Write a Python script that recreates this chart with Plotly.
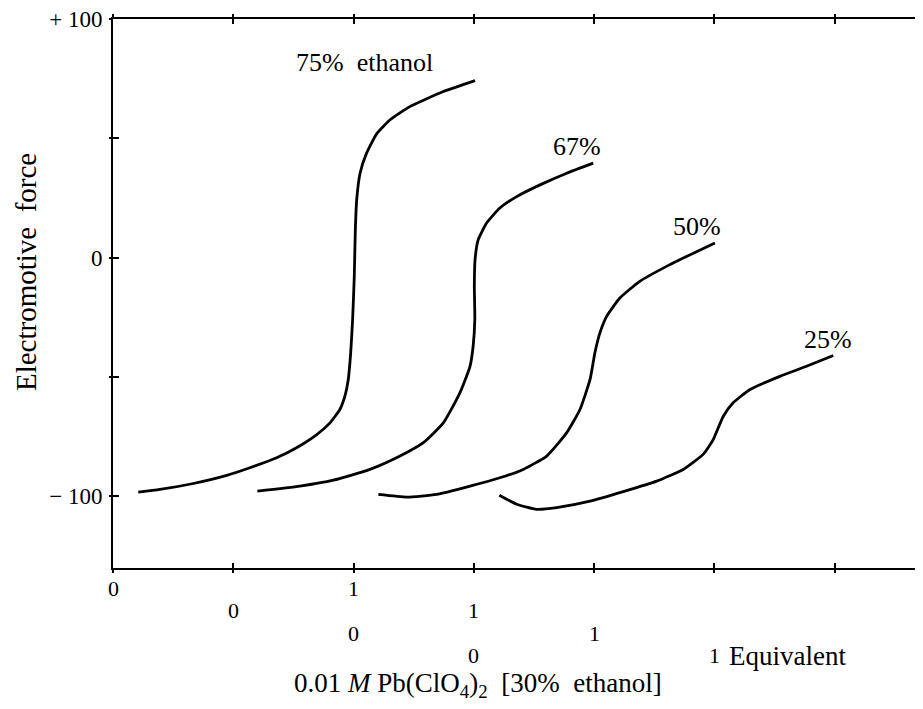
import plotly.graph_objects as go

# ---------------- data (x in equivalents of each curve's own scale, y = e.m.f.) ----------------
curve_names = ["75% ethanol", "67%", "50%", "25%"]
curve_offsets = [0.0, 0.5, 1.0, 1.5]   # each curve's scale starts half an equivalent further right

x_75 = [0.105, 0.195, 0.334, 0.473, 0.569, 0.680, 0.763, 0.847, 0.902, 0.943, 0.964, 0.978,
        0.988, 0.996, 1.003, 1.007, 1.013, 1.027, 1.054, 1.096, 1.151, 1.234, 1.373, 1.505]
y_75 = [-98.2, -97.1, -94.6, -91.2, -88.0, -83.8, -79.6, -74.1, -69.2, -63.6, -58.0, -51.0,
        -39.9, -25.9, -7.8, 10.3, 24.3, 35.4, 43.8, 51.9, 57.7, 63.3, 69.6, 74.2]

x_67 = [0.100, 0.277, 0.416, 0.568, 0.693, 0.790, 0.873, 0.942, 0.984, 0.997, 1.004, 1.002,
        1.005, 1.018, 1.053, 1.108, 1.178, 1.275, 1.386, 1.496]
y_67 = [-97.8, -95.7, -93.2, -88.7, -83.1, -77.5, -69.2, -56.6, -45.5, -37.1, -25.9, -12.0,
        -0.8, 7.5, 14.5, 20.8, 25.6, 30.5, 35.4, 39.6]

x_50 = [0.103, 0.221, 0.345, 0.484, 0.608, 0.705, 0.803, 0.886, 0.941, 0.983, 1.003, 1.024,
        1.052, 1.107, 1.190, 1.315, 1.502]
y_50 = [-99.2, -100.3, -99.2, -95.7, -92.2, -88.7, -83.1, -73.3, -63.6, -51.0, -39.9, -31.5,
        -24.6, -16.9, -9.9, -2.9, 6.2]

x_25 = [0.106, 0.178, 0.261, 0.344, 0.483, 0.621, 0.760, 0.870, 0.953, 0.995, 1.037, 1.078,
        1.148, 1.272, 1.383, 1.494]
y_25 = [-99.5, -103.3, -105.4, -104.7, -102.0, -98.0, -93.6, -88.7, -82.4, -76.2, -66.4, -60.8,
        -55.2, -49.7, -45.5, -41.0]

curves_x = [x_75, x_67, x_50, x_25]
curves_y = [y_75, y_67, y_50, y_25]

# curve label positions (absolute axis units)
label_x = [1.047, 1.929, 2.427, 2.972]
label_y = [81.6, 46.4, 13.0, -34.3]

# y axis ticks
y_labelvals = [-100, 0, 100]
y_ticktext = ["\u2212 100", "0", "+ 100"]
y_minorvals = [-50, 50]
y_allvals = [-100, -50, 0, 50, 100]

# x axis ticks (absolute units) and staggered scale labels
x_tickvals = [0, 0.5, 1.0, 1.5, 2.0, 2.5, 3.0]
scale_label_x = [0.0, 0.5, 1.0, 1.0, 1.5, 1.5, 2.0, 2.5]
scale_label_text = ["0", "0", "1", "0", "1", "0", "1", "1"]
scale_label_row = [0, 1, 0, 2, 1, 3, 2, 3]

x_title = "0.01 <i>M</i> Pb(ClO<sub>4</sub>)<sub>2</sub>  [30%  ethanol]"
y_title = "Electromotive  force"

FONT = "Liberation Serif"

fig = go.Figure()
for cx, cy, off in zip(curves_x, curves_y, curve_offsets):
    fig.add_trace(go.Scatter(x=[v + off for v in cx], y=cy, mode="lines",
                             line=dict(color="black", width=2.8, shape="spline", smoothing=0.5),
                             showlegend=False, hoverinfo="skip"))
# invisible trace for overlay axes
fig.add_trace(go.Scatter(x=[0], y=[0], xaxis="x2", yaxis="y2", mode="markers",
                         marker=dict(opacity=0), showlegend=False, hoverinfo="skip"))

for name, lx, ly in zip(curve_names, label_x, label_y):
    fig.add_annotation(x=lx, y=ly, text=name.replace("% ", "%  "), showarrow=False,
                       font=dict(family=FONT, size=26, color="black"), xanchor="center", yanchor="middle")

row_gap = 22.5
for lx, t, r in zip(scale_label_x, scale_label_text, scale_label_row):
    fig.add_annotation(x=lx, y=0, yref="paper", text=t, showarrow=False, xanchor="center",
                       yanchor="middle", yshift=-(20 + r * row_gap),
                       font=dict(family=FONT, size=22, color="black"))
fig.add_annotation(x=2.5, y=0, yref="paper", text="Equivalent", showarrow=False, xanchor="left",
                   yanchor="middle", yshift=-(20 + 3 * row_gap), xshift=13,
                   font=dict(family=FONT, size=27, color="black"))
fig.add_annotation(x=0.45, xref="paper", y=0, yref="paper", text=x_title, showarrow=False,
                   xanchor="center", yanchor="middle", yshift=-117,
                   font=dict(family=FONT, size=27, color="black"))
fig.add_annotation(x=0, xref="paper", y=0.539, yref="paper", text=y_title, showarrow=False,
                   textangle=-90, xanchor="center", yanchor="middle", xshift=-87,
                   font=dict(family=FONT, size=29, color="black"))

axis_common = dict(showgrid=False, zeroline=False)
# the page body has an 8px margin: the figure is sized so its plot area lands where the reference's does
fig.update_layout(
    width=915, height=701,
    margin=dict(l=105, r=0, t=11, b=141),
    paper_bgcolor="white", plot_bgcolor="white",
    xaxis=dict(range=[0, 3.367], tickvals=x_tickvals, showticklabels=False,
               ticks="inside", ticklen=5, tickwidth=1.5, tickcolor="black",
               showline=True, linecolor="black", linewidth=1.6, mirror="ticks", **axis_common),
    yaxis=dict(range=[-130, 100], tickvals=y_labelvals, ticktext=y_ticktext,
               ticks="inside", ticklen=6, tickwidth=1.5, tickcolor="black",
               minor=dict(tickvals=y_minorvals, ticks="inside", ticklen=6, tickwidth=1.5,
                          tickcolor="black", showgrid=False),
               showline=True, linecolor="black", linewidth=1.6, mirror=False,
               ticklabelstandoff=4, ticklabeloverflow="allow",
               tickfont=dict(family=FONT, size=23, color="black"), **axis_common),
    xaxis2=dict(overlaying="x", matches="x", side="bottom", tickvals=x_tickvals, showticklabels=False,
                ticks="outside", ticklen=4, tickwidth=1.5, tickcolor="black", mirror="ticks",
                showline=False, **axis_common),
    yaxis2=dict(overlaying="y", matches="y", side="left", tickvals=y_allvals, showticklabels=False,
                ticks="outside", ticklen=3, tickwidth=1.5, tickcolor="black",
                showline=False, **axis_common),
)

fig.write_html("out.html")
